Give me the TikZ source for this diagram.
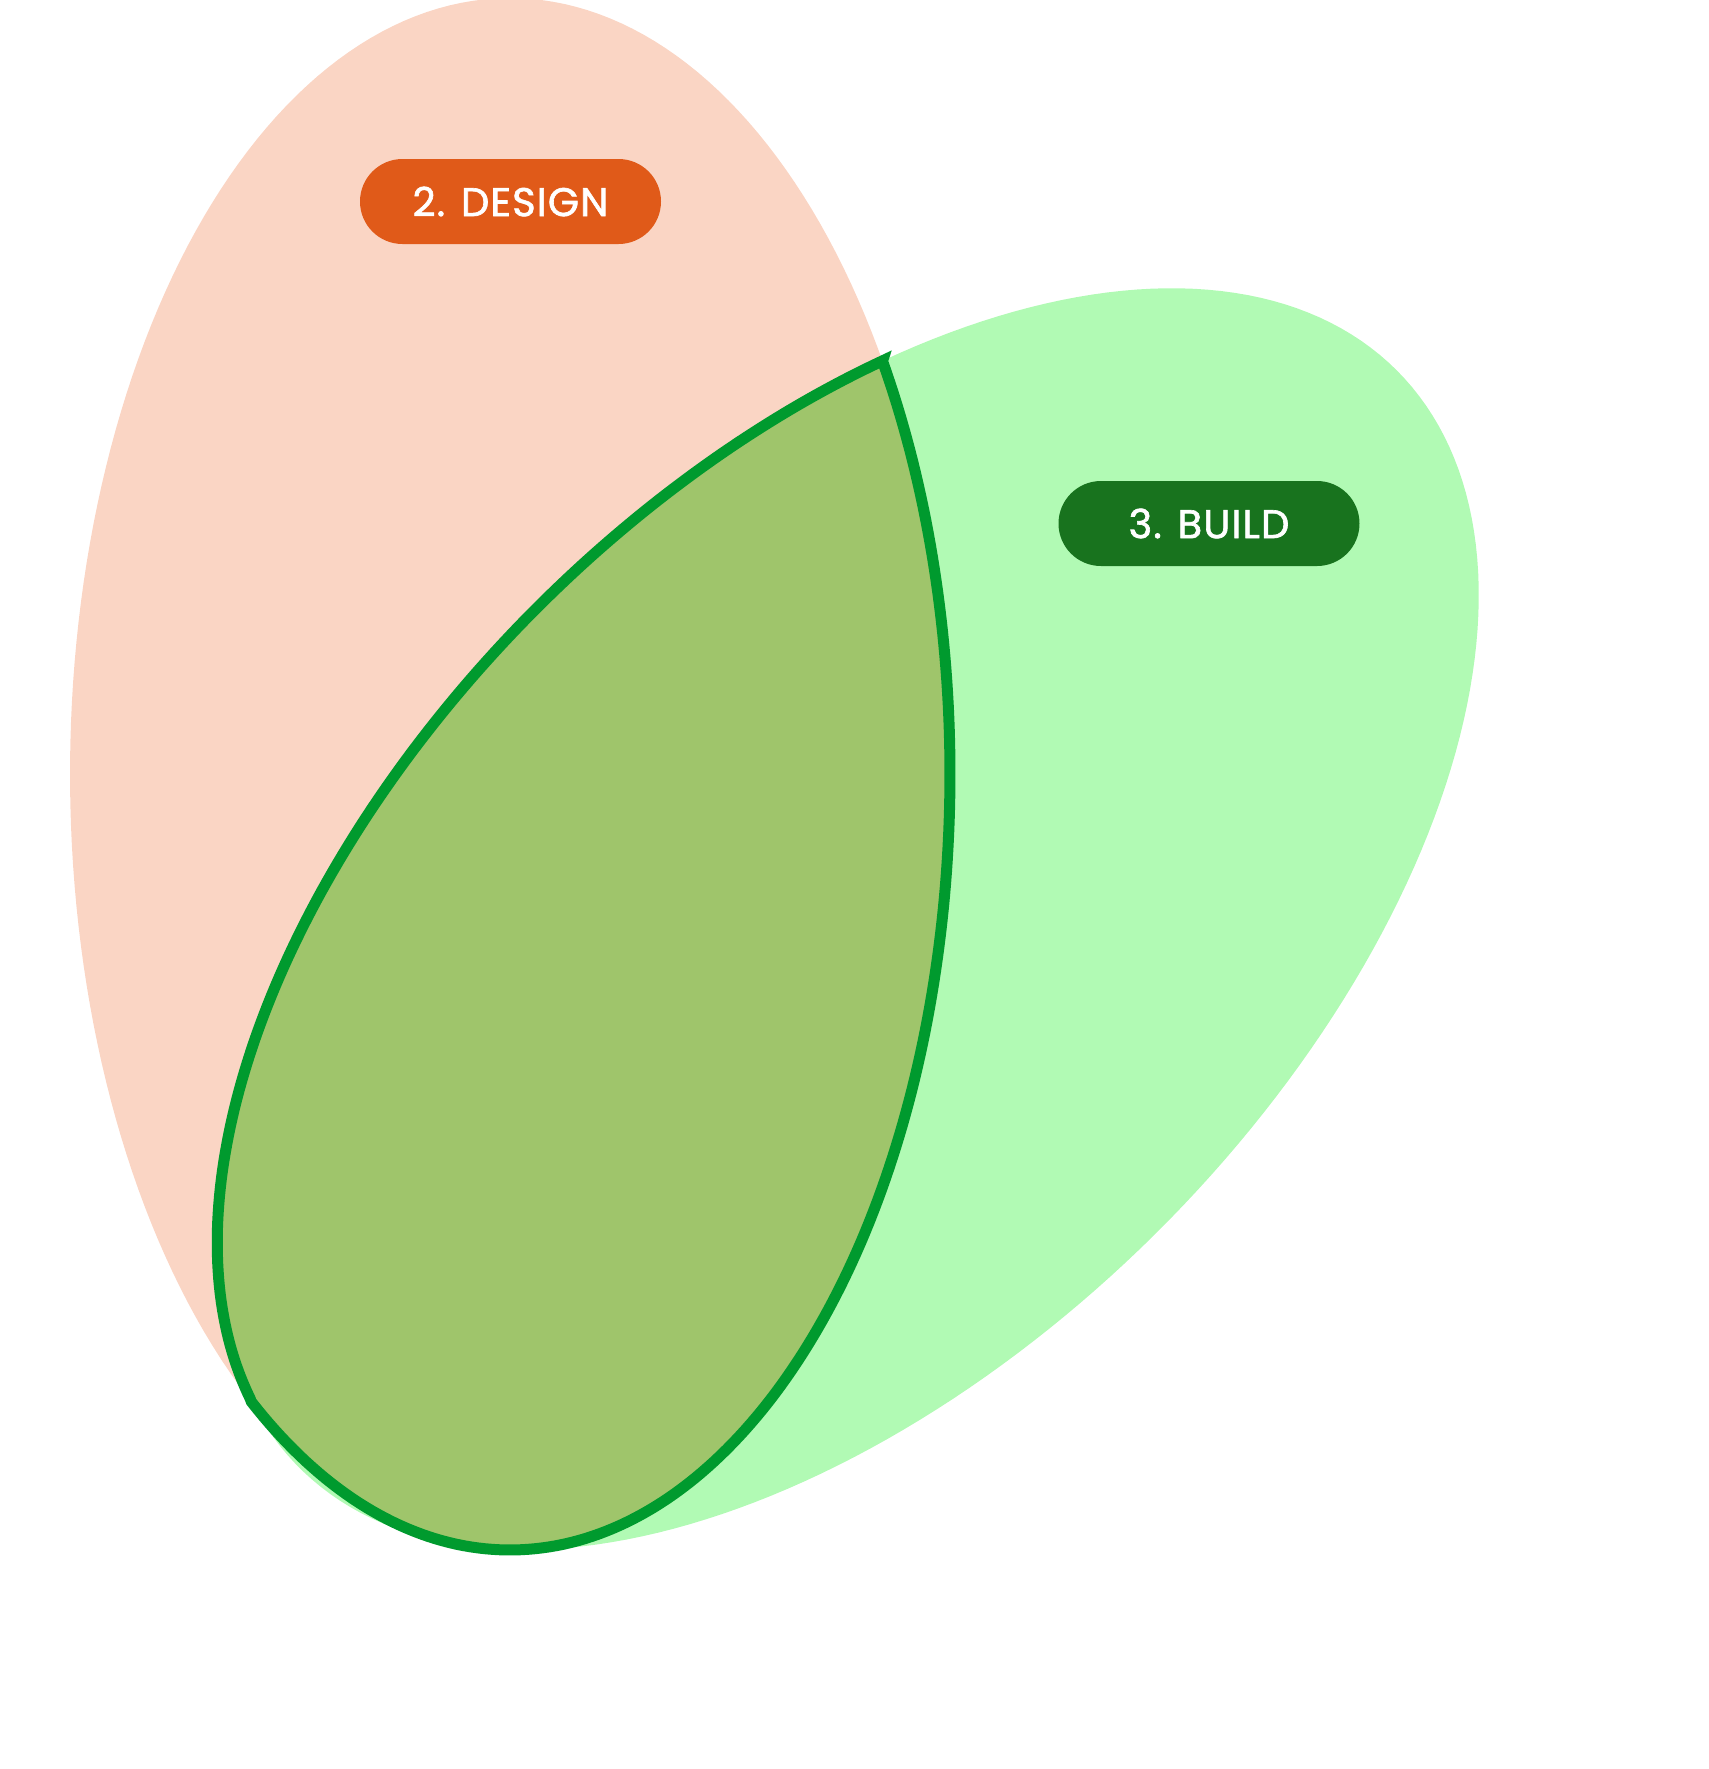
\documentclass[tikz,border=0pt]{standalone}
\usepackage{fontspec}
\newfontfamily\labfont{Poppins}[FakeBold=1.6, LetterSpace=3]
\definecolor{peach}{HTML}{FAD5C4}
\definecolor{mint}{HTML}{B1FAB4}
\definecolor{lensfill}{HTML}{9FC56B}
\definecolor{lensline}{HTML}{009A2E}
\definecolor{designcol}{HTML}{E05A19}
\definecolor{buildcol}{HTML}{18731E}
\tikzset{
  pill/.style={rounded corners=21.25pt, minimum width=150.5pt, minimum height=42.5pt,
    inner sep=0pt, text=white, font=\labfont\fontsize{20}{24}\selectfont},
}
\begin{document}
\begin{tikzpicture}[x=0.5pt,y=-0.5pt]
\useasboundingbox (0,0) rectangle (1709,1769);
% petal 2 (design)
\fill[peach] plot[domain=0:360, samples=240, variable=\t] ({510+440*cos(\t)},{774+776*sin(\t)}) -- cycle;
% petal 3 (build), rotated 45 degrees
\fill[mint] plot[domain=0:360, samples=240, variable=\s] ({848+(776*cos(\s)+440*sin(\s))/sqrt(2)},{919+(-776*cos(\s)+440*sin(\s))/sqrt(2)}) -- cycle;
% overlap
\filldraw[fill=lensfill, draw=lensline, line width=5.5pt, line join=miter]
  plot[domain=-32.15:126, samples=170, variable=\t] ({510+440*cos(\t)},{774+776*sin(\t)})
  -- plot[domain=-169:-57.3, samples=130, variable=\s] ({848+(776*cos(\s)+440*sin(\s))/sqrt(2)},{919+(-776*cos(\s)+440*sin(\s))/sqrt(2)})
  -- cycle;
% labels
\node[pill, fill=designcol] (design) at (510.5,201.5) {2. DESIGN};
\node[pill, fill=buildcol] (build) at (1209,523.5) {3. BUILD};
\end{tikzpicture}
\end{document}
